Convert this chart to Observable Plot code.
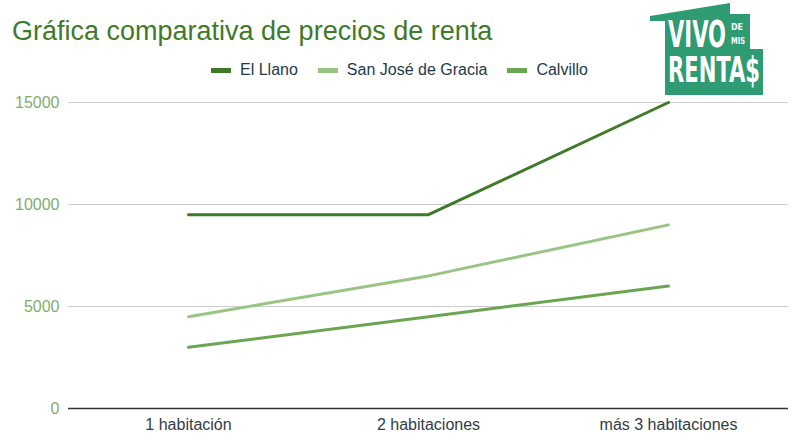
<!DOCTYPE html>
<html>
<head>
<meta charset="utf-8">
<script src="https://cdn.jsdelivr.net/npm/d3@7"></script>
<script src="https://cdn.jsdelivr.net/npm/@observablehq/plot@0.6"></script>
<style>
  html, body { margin: 0; padding: 0; background: #fff; }
  body { width: 799px; height: 440px; overflow: hidden; position: relative; font-family: "Liberation Sans", Arial, sans-serif; }
  #header { position: relative; height: 86px; }
  #title { position: absolute; left: 12px; top: 18px; font-size: 27px; line-height: 27px; color: #3f7a2a; white-space: nowrap; }
  #legend { position: absolute; left: 0; width: 799px; top: 62px; display: flex; justify-content: center; font-size: 16px; line-height: 16px; color: #23394a; }
  .item { display: flex; align-items: center; margin: 0 10px; }
  .sw { width: 20px; height: 5px; margin-right: 9px; }
  #logo { position: absolute; left: 640px; top: 0; }
</style>
</head>
<body>
<div id="header">
  <div id="title">Gráfica comparativa de precios de renta</div>
  <div id="legend"></div>
</div>
<div id="chart"></div>
<svg id="logo" width="130" height="100" viewBox="0 0 130 100">
  <polygon points="10,16 90,3 90,14 110,14 110,49 123,49 123,95 25,95 25,21 10,21" fill="#2e9b72"/>
  <g fill="#ffffff" font-family="'DejaVu Sans Condensed','DejaVu Sans',sans-serif" font-weight="bold">
    <text transform="translate(28,47) scale(1,1.75)" font-size="21" textLength="58" lengthAdjust="spacingAndGlyphs">VIVO</text>
    <text x="91" y="30" font-size="8" textLength="12" lengthAdjust="spacingAndGlyphs">DE</text>
    <text x="91" y="44" font-size="8" textLength="14" lengthAdjust="spacingAndGlyphs">MIS</text>
    <text transform="translate(28,82) scale(1,1.6)" font-size="22" textLength="92" lengthAdjust="spacingAndGlyphs">RENTA$</text>
  </g>
</svg>
<script>
const categories = ["1 habitación", "2 habitaciones", "más 3 habitaciones"];
const seriesNames = ["El Llano", "San José de Gracia", "Calvillo"];
const elLlano = [9500, 9500, 15000];
const sanJose = [4500, 6500, 9000];
const calvillo = [3000, 4500, 6000];
const yTicks = [0, 5000, 10000, 15000];
const seriesColors = ["#3f7a2a", "#99c584", "#6aa650"];

const seriesValues = [elLlano, sanJose, calvillo];
const data = [];
seriesNames.forEach((s, i) => {
  categories.forEach((c, j) => data.push({series: s, cat: c, value: seriesValues[i][j]}));
});

// legend
const legend = document.getElementById("legend");
seriesNames.forEach((s, i) => {
  const it = document.createElement("div");
  it.className = "item";
  const sw = document.createElement("div");
  sw.className = "sw";
  sw.style.background = seriesColors[i];
  const lab = document.createElement("span");
  lab.textContent = s;
  it.appendChild(sw); it.appendChild(lab);
  legend.appendChild(it);
});

const chart = Plot.plot({
  width: 799,
  height: 354,
  marginLeft: 68,
  marginRight: 11,
  marginTop: 16,
  marginBottom: 32,
  style: {fontFamily: "'Liberation Sans', Arial, sans-serif", fontSize: "16px", background: "#fff"},
  x: {type: "point", domain: categories, padding: 0.5, label: null},
  y: {domain: [0, 15000], label: null},
  color: {domain: seriesNames, range: seriesColors},
  marks: [
    Plot.ruleY(yTicks.filter(d => d > 0), {stroke: "#cccccc", strokeWidth: 1}),
    Plot.axisY({ticks: yTicks, tickSize: 0, tickPadding: 9, color: "#7fae6a", label: null, tickFormat: d => String(d)}),
    Plot.axisX({tickSize: 0, tickPadding: 10, color: "#333d47", label: null}),
    Plot.line(data, {x: "cat", y: "value", z: "series", stroke: "series", strokeWidth: 3}),
    Plot.ruleY([0], {stroke: "#333333", strokeWidth: 1.5})
  ]
});
document.getElementById("chart").appendChild(chart);
</script>
</body>
</html>
